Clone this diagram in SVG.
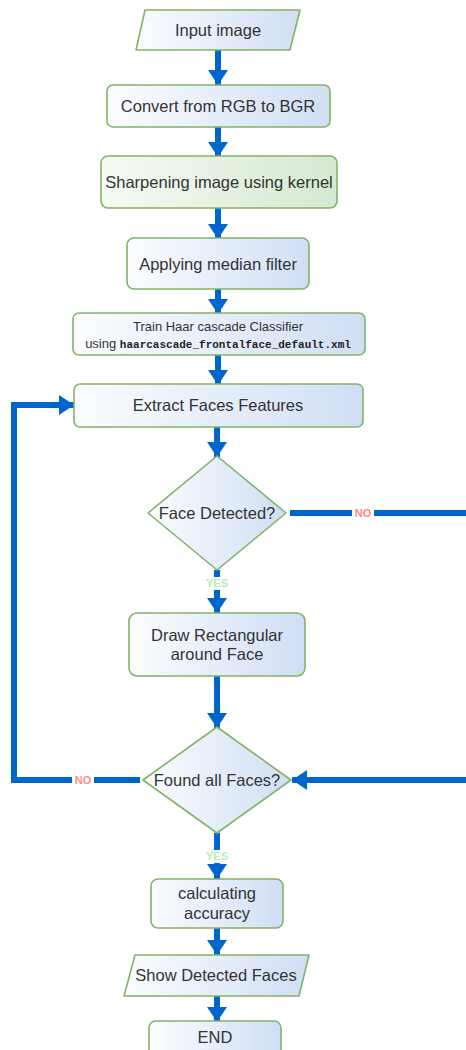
<svg xmlns="http://www.w3.org/2000/svg" width="466" height="1050" viewBox="0 0 466 1050">
<defs>
<linearGradient id="gb" x1="0" y1="0" x2="1" y2="0"><stop offset="0" stop-color="#fbfdff"/><stop offset="1" stop-color="#d0def4"/></linearGradient>
<linearGradient id="gg" x1="0" y1="0" x2="1" y2="0"><stop offset="0" stop-color="#f6fbf4"/><stop offset="1" stop-color="#d5e8d1"/></linearGradient>
<marker id="ah" markerUnits="userSpaceOnUse" markerWidth="15" markerHeight="20" refX="15" refY="10" orient="auto"><path d="M0,0 L15,10 L0,20 z" fill="#0066cc"/></marker>
<style>
.n{fill:url(#gb);stroke:#82b366;stroke-width:1.6}
.ng{fill:url(#gg);stroke:#82b366;stroke-width:1.6}
.t{font-family:"Liberation Sans",Arial,sans-serif;font-size:16.5px;fill:#333;text-anchor:middle}
.s{font-family:"Liberation Sans",Arial,sans-serif;font-size:13px;fill:#333;text-anchor:middle}
.m{font-family:"Liberation Mono","DejaVu Sans Mono",monospace;font-size:11px;font-weight:bold;fill:#222}
.c{fill:none;stroke:#0066cc;stroke-width:6;marker-end:url(#ah)}
.no{font-family:"Liberation Sans",Arial,sans-serif;font-size:11px;font-weight:bold;fill:#ff8a8a;text-anchor:middle}
.yes{font-family:"Liberation Sans",Arial,sans-serif;font-size:11px;font-weight:bold;fill:#b4f0b4;text-anchor:middle}
.lb{fill:#ffffff}
</style>
</defs>
<g id="connectors">
<path class="c" d="M218,50 V85"/>
<path class="c" d="M218,127 V157"/>
<path class="c" d="M218,208 V239"/>
<path class="c" d="M218,289 V314"/>
<path class="c" d="M218,355 V385"/>
<path class="c" d="M217,427 V457"/>
<path class="c" d="M217,570 V613"/>
<path class="c" d="M217,676 V728"/>
<path class="c" d="M217,833 V879"/>
<path class="c" d="M217,928 V955"/>
<path class="c" d="M217,996 V1022"/>
<path class="c" d="M290,513 H476 V780 H292"/>
<path class="c" d="M140,780 H14 V405 H74"/>
<rect class="lb" x="352" y="506" width="22" height="14"/>
<text class="no" x="363" y="517">NO</text>
<rect class="lb" x="72" y="773" width="22" height="14"/>
<text class="no" x="83" y="784">NO</text>
<rect class="lb" x="201" y="577" width="32" height="13"/>
<text class="yes" x="217" y="587">YES</text>
<rect class="lb" x="201" y="850" width="32" height="13"/>
<text class="yes" x="217" y="860">YES</text>
</g>
<g id="input"><path class="n" d="M145,10 H300 L290,50 H136 Z" stroke-linejoin="round"/><text class="t" x="218" y="36">Input image</text></g>
<g id="convert"><rect class="n" x="107" y="85" width="223" height="42" rx="6"/><text class="t" x="218" y="112">Convert from RGB to BGR</text></g>
<g id="sharpen"><rect class="ng" x="101" y="156" width="236" height="52" rx="7"/><text class="t" x="219" y="188">Sharpening image using kernel</text></g>
<g id="median"><rect class="n" x="127" y="238" width="182" height="51" rx="7"/><text class="t" x="218" y="270">Applying median filter</text></g>
<g id="train"><rect class="n" x="73" y="313" width="292" height="42" rx="6"/><text class="s" x="218" y="331">Train Haar cascade Classifier</text><text class="s" x="218" y="348">using <tspan class="m">haarcascade_frontalface_default.xml</tspan></text></g>
<g id="extract"><rect class="n" x="74" y="384" width="289" height="43" rx="6"/><text class="t" x="218" y="411">Extract Faces Features</text></g>
<g id="faceDetected"><path class="n" d="M217,456 L286,513 L217,570 L148,513 Z" stroke-linejoin="round"/><text class="t" x="217" y="519">Face Detected?</text></g>
<g id="drawRect"><rect class="n" x="129" y="613" width="176" height="63" rx="8"/><text class="t" x="217" y="641">Draw Rectangular</text><text class="t" x="217" y="660">around Face</text></g>
<g id="foundAll"><path class="n" d="M217,727 L291,780 L217,833 L143,780 Z" stroke-linejoin="round"/><text class="t" x="217" y="786">Found all Faces?</text></g>
<g id="accuracy"><rect class="n" x="151" y="879" width="132" height="49" rx="7"/><text class="t" x="217" y="899">calculating</text><text class="t" x="217" y="919">accuracy</text></g>
<g id="show"><path class="n" d="M135,955 H309 L299,996 H124 Z" stroke-linejoin="round"/><text class="t" x="216" y="981">Show Detected Faces</text></g>
<g id="end"><rect class="n" x="149" y="1021" width="132" height="45" rx="7"/><text class="t" x="215" y="1043">END</text></g>
</svg>
